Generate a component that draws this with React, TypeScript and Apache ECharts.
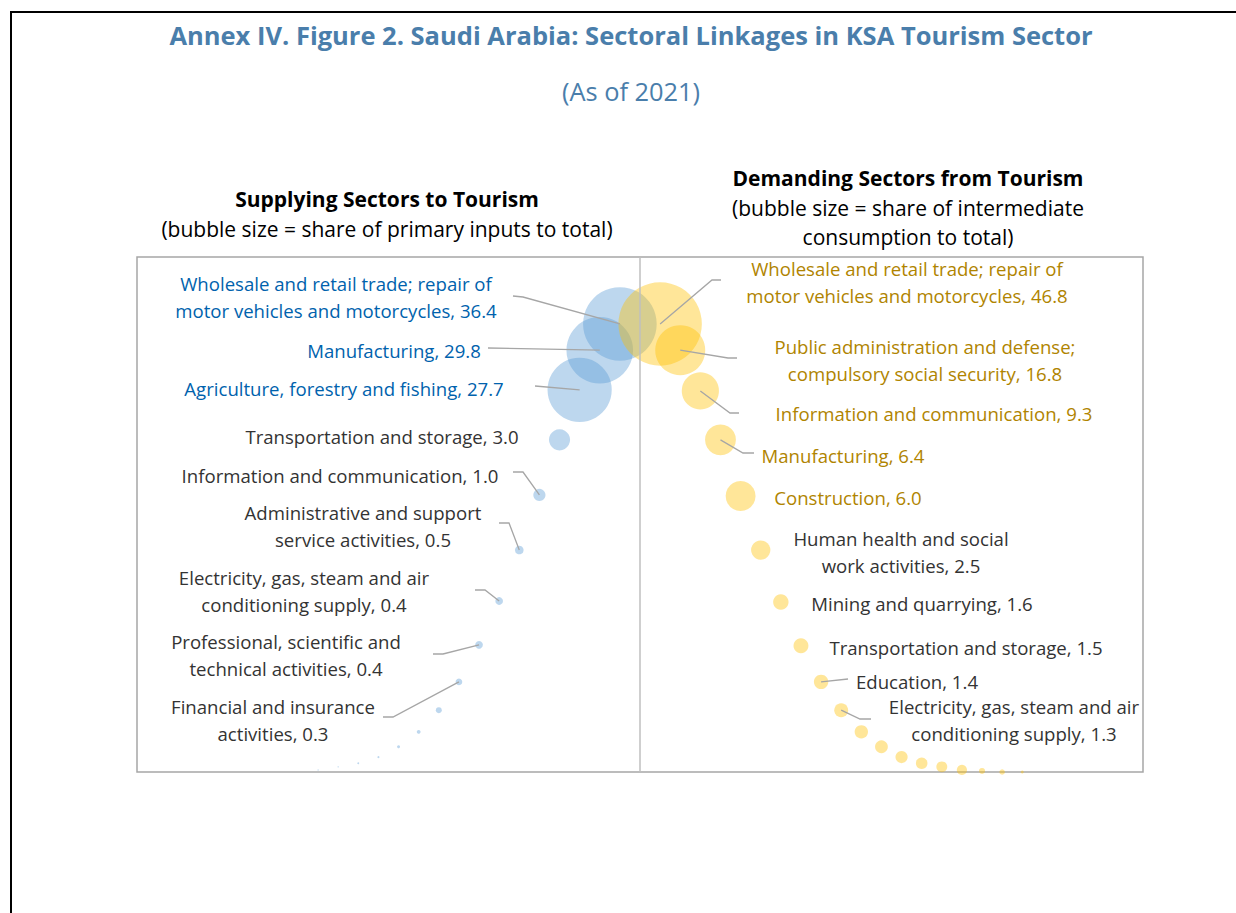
import React, { useEffect, useRef } from "react";
import * as echarts from "echarts";

// ---------- DATA ----------
const supplyNames = [
  "Wholesale and retail trade; repair of\nmotor vehicles and motorcycles",
  "Manufacturing",
  "Agriculture, forestry and fishing",
  "Transportation and storage",
  "Information and communication",
  "Administrative and support\nservice activities",
  "Electricity, gas, steam and air\nconditioning supply",
  "Professional, scientific and\ntechnical activities",
  "Financial and insurance\nactivities",
  "", "", "", "", "", "", "",
];
const supplyShares = [36.4, 29.8, 27.7, 3.0, 1.0, 0.5, 0.4, 0.4, 0.3, 0.24, 0.1, 0.06, 0.03, 0.02, 0.01, 0.01];
const supplyX = [24, 23, 22, 21, 20, 19, 18, 17, 16, 15, 14, 13, 12, 11, 10, 9];
const supplyY = [87.0, 81.9, 74.2, 64.5, 53.8, 43.1, 33.2, 24.7, 17.5, 12.0, 7.8, 4.9, 2.9, 1.7, 1.0, 0.4];

const demandNames = [
  "Wholesale and retail trade; repair of\nmotor vehicles and motorcycles",
  "Public administration and defense;\ncompulsory social security",
  "Information and communication",
  "Manufacturing",
  "Construction",
  "Human health and social\nwork activities",
  "Mining and quarrying",
  "Transportation and storage",
  "Education",
  "Electricity, gas, steam and air\nconditioning supply",
  "", "", "", "", "", "", "", "", "",
];
const demandShares = [46.8, 16.8, 9.3, 6.4, 6.0, 2.5, 1.6, 1.5, 1.4, 1.3, 1.2, 1.1, 1.0, 0.9, 0.8, 0.7, 0.25, 0.2, 0.06];
const demandX = [26, 27, 28, 29, 30, 31, 32, 33, 34, 35, 36, 37, 38, 39, 40, 41, 42, 43, 44];
const demandY = [87.0, 81.9, 74.0, 64.5, 53.6, 43.1, 33.0, 24.5, 17.5, 12.0, 7.8, 4.9, 2.9, 1.7, 1.0, 0.4, 0.2, 0, 0];

const supplyHighlightCount = 3;
const demandHighlightCount = 5;

// ---------- LAYOUT (pixels) ----------
const supplyLabelPos = [
  [336, 297], [394, 350], [344, 388], [382, 436], [340, 475],
  [363, 526], [304, 591], [286, 655], [273, 720],
];
const supplyLeader = [
  [[523, 297], [513, 296]],
  [[488, 348]],
  [[535, 386]],
  null,
  [[523, 472], [513, 472]],
  [[509, 523], [499, 523]],
  [[485, 590], [475, 590]],
  [[443, 654], [433, 654]],
  [[393, 717], [383, 717]],
];
const demandLabelPos = [
  [907, 282], [925, 360], [934, 413], [843, 455], [848, 497],
  [901, 552], [922, 603], [966, 647], [917, 681], [1014, 720],
];
const demandLeader = [
  [[712, 280], [721, 280]],
  [[728, 358], [737, 358]],
  [[730, 413], [739, 413]],
  [[743, 453], [754, 453]],
  null, null, null, null,
  [[848, 679]],
  [[860, 719], [871, 719]],
];

const FONT = "'Open Sans', 'Noto Sans', sans-serif";
const BLUE_TXT = "#0062ad";
const GOLD_TXT = "#b08400";
const GRAY_TXT = "#333333";
const TITLE_CLR = "#4a7eab";

const sizeOf = (v: number) => 12.2 * Math.sqrt(v);

function buildData(names: string[], shares: number[], xs: number[], ys: number[], hl: number, hlColor: string) {
  return shares.map((v, i) => ({
    name: names[i],
    value: [xs[i], ys[i], v],
    label: {
      show: names[i] !== "",
      color: i < hl ? hlColor : GRAY_TXT,
      opacity: 1,
    },
  }));
}

export default function App() {
  const ref = useRef<HTMLDivElement>(null);
  useEffect(() => {
    if (!ref.current) return;
    const chart = echarts.init(ref.current, null, { renderer: "svg" });
    const labelCommon = {
      fontFamily: FONT,
      fontSize: 18.6,
      lineHeight: 27,
      formatter: (p: any) => `${p.name}, ${p.value[2].toFixed(1)}`,
    };
    chart.setOption({
      animation: false,
      backgroundColor: "#ffffff",
      grid: {
        left: 137,
        top: 257,
        width: 1006,
        height: 515,
        show: true,
        borderColor: "#a6a6a6",
        borderWidth: 1.5,
        backgroundColor: "transparent",
      },
      xAxis: {
        type: "value",
        min: 0,
        max: 50,
        axisLine: { show: false },
        axisTick: { show: false },
        axisLabel: { show: false },
        splitLine: { show: false },
      },
      yAxis: {
        type: "value",
        min: 0,
        max: 100,
        axisLine: { show: false },
        axisTick: { show: false },
        axisLabel: { show: false },
        splitLine: { show: false },
      },
      series: [
        {
          name: "Supplying Sectors to Tourism",
          type: "scatter",
          clip: false,
          data: buildData(supplyNames, supplyShares, supplyX, supplyY, supplyHighlightCount, BLUE_TXT),
          symbolSize: (val: number[]) => sizeOf(val[2]),
          itemStyle: { color: "rgba(91,155,213,0.5)" },
          label: { ...labelCommon, position: "left" },
          labelLayout: (p: any) => {
            const pos = supplyLabelPos[p.dataIndex];
            if (!pos) return {};
            return { x: pos[0], y: pos[1], align: "center", verticalAlign: "middle" };
          },
          markLine: {
            silent: true,
            symbol: "none",
            label: { show: false },
            lineStyle: { color: "#bfbfbf", width: 1.5, type: "solid" },
            data: [{ xAxis: 25 }],
          },
        },
        {
          name: "Demanding Sectors from Tourism",
          type: "scatter",
          clip: false,
          data: buildData(demandNames, demandShares, demandX, demandY, demandHighlightCount, GOLD_TXT),
          symbolSize: (val: number[]) => sizeOf(val[2]),
          itemStyle: { color: "rgba(255,192,0,0.5)" },
          label: { ...labelCommon, position: "right" },
          labelLayout: (p: any) => {
            const pos = demandLabelPos[p.dataIndex];
            if (!pos) return {};
            return { x: pos[0], y: pos[1], align: "center", verticalAlign: "middle" };
          },
        },
      ],
    });

    const lines: any[] = [];
    const addLines = (leaders: any[], xs: number[], ys: number[], si: number) => {
      leaders.forEach((pts, i) => {
        if (!pts) return;
        const p = chart.convertToPixel({ seriesIndex: si }, [xs[i], ys[i]]);
        lines.push({
          type: "polyline",
          silent: true,
          z: 100,
          shape: { points: [p, ...pts] },
          style: { stroke: "#a6a6a6", lineWidth: 1.3, fill: null },
        });
      });
    };
    addLines(supplyLeader, supplyX, supplyY, 0);
    addLines(demandLeader, demandX, demandY, 1);

    const txt = (x: number, y: number, text: string, size: number, color: string, bold = false) => ({
      type: "text",
      x,
      y,
      silent: true,
      z: 100,
      style: {
        text,
        fontFamily: FONT,
        fontSize: size,
        fontWeight: bold ? "bold" : "normal",
        fill: color,
        align: "center",
        verticalAlign: "middle",
      },
    });

    chart.setOption({
      graphic: [
        {
          type: "rect",
          silent: true,
          z: 100,
          shape: { x: 11, y: 12, width: 1400, height: 1000 },
          style: { fill: null, stroke: "#000000", lineWidth: 2 },
        },
        txt(631, 35, "Annex IV. Figure 2. Saudi Arabia: Sectoral Linkages in KSA Tourism Sector", 25.5, TITLE_CLR, true),
        txt(631, 91, "(As of 2021)", 25.4, TITLE_CLR),
        txt(387, 199, "Supplying Sectors to Tourism", 21, "#000000", true),
        txt(387, 229, "(bubble size = share of primary inputs to total)", 21, "#000000"),
        txt(908, 178, "Demanding Sectors from Tourism", 21, "#000000", true),
        txt(908, 208, "(bubble size = share of intermediate", 21, "#000000"),
        txt(908, 237, "consumption to total)", 21, "#000000"),
        ...lines,
      ],
    });

    return () => chart.dispose();
  }, []);
  return (
    <div
      ref={ref}
      style={{ position: "absolute", left: 0, top: 0, width: 1236, height: 913 }}
    />
  );
}
